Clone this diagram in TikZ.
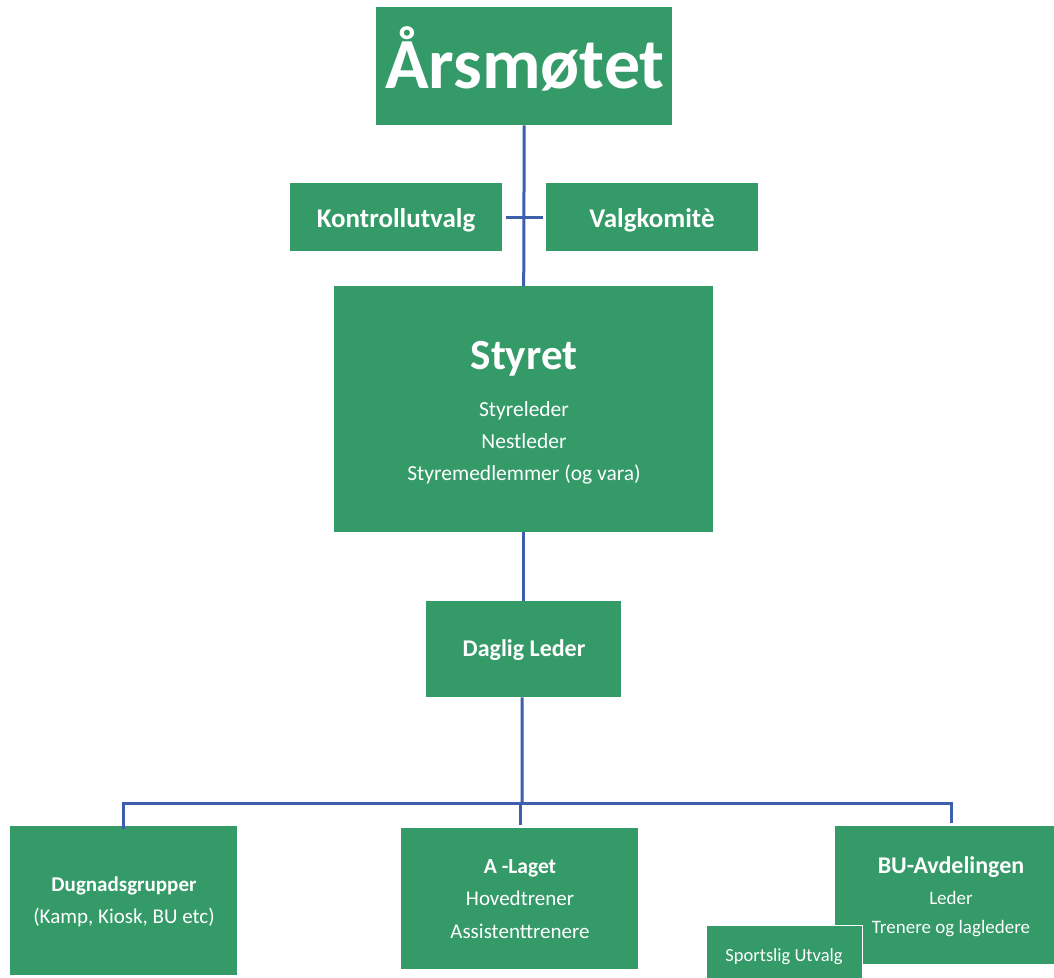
\documentclass[tikz,border=0pt]{standalone}
\usepackage{fontspec}
\setmainfont{Carlito}
\definecolor{boxgreen}{RGB}{52,154,104}
\definecolor{linkblue}{RGB}{62,96,172}
\tikzset{
  box/.style={fill=boxgreen, draw=none, inner sep=0pt, anchor=north west},
  txt/.style={text=white, inner sep=0pt, anchor=base},
  link/.style={draw=linkblue, line width=3pt},
}
\newcommand{\fs}[1]{\fontsize{#1}{#1}\selectfont}
\begin{document}
\begin{tikzpicture}[x=1pt,y=-1pt]
\useasboundingbox (0,0) rectangle (1054,977);
% boxes
\node[box, minimum width=296pt, minimum height=118pt] (arsmotet) at (376,7) {};
\node[box, minimum width=212pt, minimum height=68pt] (kontroll) at (290,183) {};
\node[box, minimum width=212pt, minimum height=68pt] (valg) at (546,183) {};
\node[box, minimum width=379pt, minimum height=246pt] (styret) at (334,286) {};
\node[box, minimum width=195pt, minimum height=96pt] (daglig) at (426,601) {};
\node[box, minimum width=227pt, minimum height=149pt] (dugnad) at (10,826) {};
\node[box, minimum width=237pt, minimum height=141pt] (alaget) at (401,828) {};
\node[box, minimum width=219pt, minimum height=138pt] (bu) at (835,826) {};
\node[box, draw=white, line width=1pt, minimum width=156pt, minimum height=60pt] (sportslig) at (706,925) {};
% texts
\node[txt, font=\bfseries\fs{72}] (t-ars) at (525,88) {Årsmøtet};
\node[txt, font=\bfseries\fs{27}] (t-kontroll) at (396,227) {Kontrollutvalg};
\node[txt, font=\bfseries\fs{27}] (t-valg) at (652,227) {Valgkomitè};
\node[txt, font=\bfseries\fs{43}] (t-styret) at (524,369) {Styret};
\node[txt, font=\fs{21.5}] (t-styre1) at (524,416) {Styreleder};
\node[txt, font=\fs{21.5}] (t-styre2) at (524,448) {Nestleder};
\node[txt, font=\fs{21.5}] (t-styre3) at (524,480) {Styremedlemmer (og vara)};
\node[txt, font=\bfseries\fs{24}] (t-daglig) at (524,656) {Daglig Leder};
\node[txt, font=\bfseries\fs{21}] (t-dugnad) at (124,891) {Dugnadsgrupper};
\node[txt, font=\fs{21}] (t-dugnad2) at (124,923) {(Kamp, Kiosk, BU etc)};
\node[txt, font=\bfseries\fs{21.5}] (t-alaget) at (520,873) {A -Laget};
\node[txt, font=\fs{21}] (t-alaget2) at (520,905) {Hovedtrener};
\node[txt, font=\fs{21}] (t-alaget3) at (520,938) {Assistenttrenere};
\node[txt, font=\bfseries\fs{24}] (t-bu) at (951,873) {BU-Avdelingen};
\node[txt, font=\fs{19}] (t-bu2) at (951,904) {Leder};
\node[txt, font=\fs{19}] (t-bu3) at (951,933) {Trenere og lagledere};
\node[txt, font=\fs{18.5}] (t-sport) at (784,961) {Sportslig Utvalg};
% connectors
\coordinate (j1) at (522,803);
\coordinate (budrop) at (951,823);
\coordinate (adrop) at (520,825);
\draw[link] (arsmotet.south) -- (styret.north);
\draw[link] ([xshift=4pt]kontroll.east) -- ([xshift=-3pt]valg.west);
\draw[link] (styret.south) -- (daglig.north);
\draw[link] ([xshift=-1.5pt]daglig.south) -- (j1);
\draw[link] ([yshift=-3pt]dugnad.north) |- (j1) -| (budrop);
\draw[link] (j1 -| adrop) -- (adrop);
\end{tikzpicture}
\end{document}
